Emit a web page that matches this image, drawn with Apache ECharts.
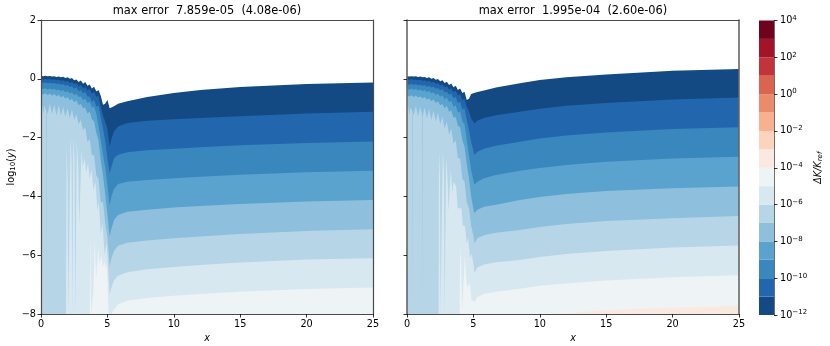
<!DOCTYPE html>
<html>
<head>
<meta charset="utf-8">
<style>html,body{margin:0;padding:0;background:#fff}#main{width:830px;height:346px}</style>
<script src="https://cdn.jsdelivr.net/npm/echarts@6/dist/echarts.min.js"></script>
</head>
<body>
<div id="main"></div>
<script>
// colour bar, exponents of the level edges and one colour per level
const cbEdges = [-12,-11,-10,-9,-8,-7,-6,-5,-4,-3,-2,-1,0,1,2,3,4];
const cbColors = ['#134a84','#2267ad','#3a87bd','#5ba3cf','#8ec0dd','#b6d6e8','#d8e8f1','#eef3f6',
                  '#fae9e1','#fcd3bd','#f9b08f','#ea8c6c','#da654f','#c23439','#a41429','#6f021f'];
const xTicksMax = 25;
const titleLeft = 'max error  7.859e-05  (4.08e-06)';
const titleRight = 'max error  1.995e-04  (2.60e-06)';

// left panel: top edge of each band, log10(y) at leftX
const leftX = [0,.17,.33,.5,.67,.83, 1,1.17,1.33,1.5,1.67,1.83, 2,2.17,2.33,2.5,2.67,2.83, 3,3.17,3.33,3.5,3.67,3.83, 4,4.17,4.33,4.5,4.67,4.83,
               5,5.17,5.3,5.5,5.8,6.5,8,10,12,15,20,25];
const leftB1 = [.10,.09,.10,.085,.095,.08, .09,.065,.08,.05,.07,.03, .055,0,.03,-.05,-.02,-.11, -.06,-.17,-.11,-.24,-.19,-.33, -.27,-.43,-.38,-.58,-.88,-.85,
                -.72,-1.0,-1.02,-.93,-.85,-.76,-.62,-.48,-.38,-.28,-.18,-.13];
const leftB2 = [0,-.02,-.005,-.025,-.01,-.03, -.015,-.05,-.03,-.07,-.05,-.1, -.07,-.14,-.11,-.18,-.15,-.25, -.2,-.32,-.27,-.4,-.35,-.5, -.45,-.62,-.57,-.95,-1.25,-1.45,
                -1.7,-2.3,-2.05,-1.78,-1.62,-1.5,-1.43,-1.38,-1.33,-1.27,-1.18,-1.12];
const leftB3 = [-.12,-.14,-.125,-.15,-.135,-.16, -.145,-.18,-.16,-.2,-.18,-.24, -.21,-.28,-.25,-.34,-.3,-.42, -.37,-.5,-.44,-.6,-.6,-.78, -.72,-.95,-.9,-1.3,-1.7,-2.1,
                -2.7,-3.2,-3.0,-2.7,-2.58,-2.5,-2.43,-2.38,-2.33,-2.26,-2.18,-2.13];
const leftB4 = [-.32,-.35,-.32,-.36,-.33,-.37, -.34,-.39,-.36,-.42,-.38,-.46, -.42,-.5,-.46,-.56,-.51,-.62, -.6,-.72,-.68,-.82,-.78,-.98, -.95,-1.2,-1.6,-2.1,-2.6,-3.0,
                -3.6,-4.3,-4.0,-3.75,-3.58,-3.5,-3.44,-3.38,-3.33,-3.26,-3.18,-3.13];
const leftB5 = [-.49,-.54,-.49,-.56,-.5,-.58, -.52,-.6,-.54,-.64,-.58,-.68, -.62,-.74,-.68,-.8,-.74,-.9, -.86,-1.0,-.98,-1.18,-1.12,-1.38, -1.45,-1.85,-2.1,-2.8,-3.3,-3.9,
                -4.6,-5.36,-5.1,-4.8,-4.63,-4.52,-4.45,-4.38,-4.33,-4.26,-4.17,-4.12];
const leftB6 = [[0,-.95],[.08,-.85],[.17,-1.2],[.25,-.9],[.33,-.85],[.39,-1.1],[.41,-8],[.43,-1.1],[.5,-1.2],[.67,-.85],[.83,-1.2],[1,-.88],[1.17,-1.25],[1.33,-.88],[1.5,-1.25],
                [1.67,-.95],[1.83,-1.3],[2,-1.0],[2.17,-1.35],[2.33,-1.05],[2.5,-1.4],[2.67,-1.2],[2.83,-1.55],[3,-1.4],[3.17,-1.75],[3.33,-1.65],[3.5,-2.15],[3.67,-2.05],[3.83,-2.6],
                [4,-2.6],[4.17,-3.3],[4.33,-3.4],[4.5,-4.2],[4.67,-4.2],[4.83,-4.9],[5,-5.4],[5.17,-6.38],[5.3,-6.1],[5.5,-5.85],[5.8,-5.68],[6.5,-5.58],[8,-5.5],[10,-5.42],[12,-5.36],[15,-5.28],[20,-5.18],[25,-5.12]];
const leftB7 = [[0,-8],[1.88,-8],[1.93,-2.25],[2,-3.5],[2.05,-8],[2.18,-8],[2.23,-1.96],[2.3,-2.9],[2.36,-8],[2.4,-8],[2.44,-2],[2.52,-2.8],[2.58,-8],[2.66,-8],[2.7,-2.15],[2.8,-3],[2.88,-5],
                [3.05,-2.45],[3.15,-3],[3.3,-2.7],[3.4,-3.2],[3.55,-2.85],[3.65,-3.4],[3.8,-3.1],[3.95,-3.8],[4.1,-3.5],[4.25,-4.5],[4.35,-4.2],[4.5,-5.3],[4.62,-4.9],[4.8,-6],[4.95,-5.6],[5.1,-6.8],
                [5.17,-7.35],[5.3,-7.1],[5.5,-6.85],[5.8,-6.7],[6.5,-6.58],[8,-6.48],[10,-6.4],[12,-6.33],[15,-6.25],[20,-6.15],[25,-6.1]];
const leftB8 = [[0,-8],[3.67,-8],[3.7,-5.2],[3.74,-7],[3.78,-8],[3.82,-7.8],[3.95,-7.2],[4.05,-5.4],[4.1,-6.2],[4.15,-6.8],[4.32,-5.75],[4.4,-6.3],[4.56,-6],[4.66,-6.4],[4.8,-6.2],[4.9,-6.5],[4.97,-6.3],[5.05,-7.6],[5.1,-8],
                [5.3,-8],[5.5,-7.85],[5.8,-7.68],[6.5,-7.55],[8,-7.46],[10,-7.38],[12,-7.32],[15,-7.24],[20,-7.15],[25,-7.1]];

// right panel
const rightX = [0,.17,.33,.5,.67,.83, 1,1.17,1.33,1.5,1.67,1.83, 2,2.17,2.33,2.5,2.67,2.83, 3,3.17,3.33,3.5,3.67,3.83, 4,4.17,4.33,4.5,4.67,4.83,
                5,5.07,5.3,5.8,6.7,8.5,10,12,15,20,25];
const rightB1 = [.09,.08,.09,.075,.085,.065, .08,.05,.065,.03,.05,0, .03,-.03,-.01,-.08,-.05,-.14, -.1,-.21,-.16,-.29,-.24,-.38, -.33,-.48,-.44,-.72,-.68,-.52,
                 -.49,-.48,-.45,-.4,-.3,-.15,-.04,.05,.15,.27,.33];
const rightB2 = [-.01,-.03,-.01,-.04,-.02,-.05, -.03,-.07,-.05,-.09,-.07,-.13, -.1,-.17,-.14,-.22,-.19,-.29, -.25,-.36,-.32,-.45,-.41,-.57, -.52,-.72,-.68,-.95,-1.1,-1.35,
                 -1.45,-1.52,-1.42,-1.33,-1.24,-1.12,-1.02,-.92,-.82,-.7,-.64];
const rightB3 = [-.17,-.2,-.17,-.21,-.18,-.22, -.2,-.24,-.21,-.27,-.24,-.3, -.27,-.34,-.31,-.39,-.35,-.46, -.44,-.54,-.5,-.66,-.62,-.82, -.78,-1.05,-1.0,-1.4,-1.75,-2.15,
                 -2.45,-2.59,-2.48,-2.38,-2.28,-2.14,-2.03,-1.93,-1.83,-1.71,-1.65];
const rightB4 = [-.33,-.37,-.33,-.38,-.34,-.4, -.36,-.42,-.38,-.46,-.41,-.5, -.46,-.55,-.5,-.61,-.56,-.7, -.64,-.8,-.75,-.95,-.9,-1.15, -1.1,-1.45,-1.55,-2.1,-2.6,-3.1,
                 -3.45,-3.6,-3.5,-3.38,-3.27,-3.13,-3.03,-2.93,-2.82,-2.71,-2.65];
const rightB5 = [-.56,-.6,-.56,-.62,-.57,-.64, -.6,-.67,-.62,-.71,-.66,-.76, -.7,-.82,-.76,-.9,-.86,-1.0, -.92,-1.12,-1.08,-1.32,-1.3,-1.6, -1.65,-2.1,-2.3,-2.9,-3.4,-4.0,
                 -4.42,-4.57,-4.45,-4.35,-4.28,-4.12,-4.02,-3.92,-3.82,-3.72,-3.66];
const rightB6 = [[0,-1],[.08,-.9],[.17,-1.25],[.25,-.98],[.33,-.92],[.39,-1.1],[.41,-8],[.43,-1.1],[.5,-1.25],[.67,-.92],[.83,-1.28],[1,-.95],[1.13,-1.25],[1.15,-8],[1.17,-1.3],[1.33,-.98],[1.5,-1.35],
                 [1.67,-1.02],[1.83,-1.4],[2,-1.08],[2.17,-1.45],[2.33,-1.15],[2.5,-1.55],[2.67,-1.28],[2.83,-1.7],[3,-1.45],[3.17,-1.9],[3.33,-1.7],[3.5,-2.2],[3.67,-2.1],[3.83,-2.7],
                 [4,-2.7],[4.17,-3.4],[4.33,-3.5],[4.5,-4.2],[4.67,-4.4],[4.83,-5],[5,-5.35],[5.07,-5.59],[5.3,-5.42],[5.8,-5.32],[6.7,-5.24],[8.5,-5.14],[10,-5.04],[12,-4.94],[15,-4.84],[20,-4.74],[25,-4.67]];
const rightB7 = [[0,-8],[2.38,-8],[2.41,-2.47],[2.48,-3.3],[2.52,-8],[2.66,-8],[2.7,-2.47],[2.78,-3.2],[2.83,-8],[2.9,-8],[2.95,-2.7],[3.05,-3.4],[3.12,-4.5],[3.3,-3.1],[3.42,-3.9],[3.5,-3.5],
                 [3.7,-3.66],[3.82,-4.4],[4.1,-4.4],[4.2,-5],[4.36,-5],[4.5,-5.6],[4.6,-5.4],[4.75,-6.1],[4.87,-5.95],[5,-6.3],[5.07,-6.61],[5.3,-6.42],[5.8,-6.32],[6.7,-6.24],[8.5,-6.16],[10,-6.06],[12,-5.96],[15,-5.86],[20,-5.74],[25,-5.67]];
const rightB8 = [[0,-8],[3.97,-8],[4,-5.65],[4.08,-6.4],[4.15,-7.9],[4.36,-6],[4.46,-6.8],[4.55,-7.1],[4.74,-6.95],[4.85,-7.5],[5.07,-7.6],[5.3,-7.42],[5.8,-7.32],[6.7,-7.24],[8.5,-7.14],[10,-7.04],[12,-6.96],[15,-6.86],[20,-6.75],[25,-6.68]];
const rightB9 = [[0,-8],[11.5,-8],[12.5,-7.97],[15,-7.86],[17.5,-7.82],[20,-7.79],[25,-7.71]];

const FONT = 'DejaVu Sans';
const LINE = '#4a4a4a';

function zip(xs, ys) {
    return ys.map(function (y, i) { return [xs[i], y]; });
}

// one filled layer per band, darkest first, each one reaching down to the axis bottom
function bands(axisIndex, layers) {
    return layers.map(function (data, i) {
        return {
            type: 'line', xAxisIndex: axisIndex, yAxisIndex: axisIndex, data: data,
            showSymbol: false, symbol: 'none', silent: true, lineStyle: {width: 0}, z: 2 + i * 0.01,
            areaStyle: {color: cbColors[i], opacity: 1, origin: 'start'}
        };
    });
}

function minus(v) {
    return String(v).replace('-', '\u2212');
}

function xAxisFor(gridIndex) {
    return {
        type: 'value', gridIndex: gridIndex, min: 0, max: xTicksMax, interval: 5, z: 5,
        name: '{i|x}', nameLocation: 'middle', nameGap: 18,
        nameTextStyle: {rich: {i: {fontFamily: FONT, fontStyle: 'italic', fontSize: 9.7, color: '#000'}}},
        axisLine: {onZero: false, lineStyle: {color: LINE, width: 1.2}},
        axisTick: {length: 3.5, lineStyle: {color: '#000', width: .8}},
        axisLabel: {fontFamily: FONT, fontSize: 9.7, color: '#000', margin: 5},
        splitLine: {show: false}
    };
}

function yAxisFor(gridIndex, labels) {
    return {
        type: 'value', gridIndex: gridIndex, min: -8, max: 2, interval: 2, z: 5,
        axisLine: {onZero: false, lineStyle: {color: LINE, width: 1.2}},
        axisTick: {length: 3.5, lineStyle: {color: '#000', width: .8}},
        axisLabel: {show: labels, fontFamily: FONT, fontSize: 9.7, color: '#000', margin: 5, formatter: minus},
        splitLine: {show: false}
    };
}

function edgeAxis(base, position) {
    return Object.assign({}, base, {
        position: position, name: '', axisTick: {show: false}, axisLabel: {show: false}
    });
}

const xL = xAxisFor(0), xR = xAxisFor(1), yL = yAxisFor(0, true), yR = yAxisFor(1, false);
yL.name = '{n|log}{s|10}{n|(}{i|y}{n|)}';
yL.nameLocation = 'middle';
yL.nameGap = 24;
yL.nameRotate = 90;
yL.nameTextStyle = {rich: {
    n: {fontFamily: FONT, fontSize: 9.7, color: '#000'},
    i: {fontFamily: FONT, fontStyle: 'italic', fontSize: 9.7, color: '#000'},
    s: {fontFamily: FONT, fontSize: 7, color: '#000', padding: [4, 0, 0, 0]}
}};
yR.axisLine.lineStyle = {color: '#666', width: 1.6};

const cbData = cbColors.map(function (c, i) { return [cbEdges[i], cbEdges[i + 1]]; });

const option = {
    animation: false,
    backgroundColor: '#fff',
    title: [
        {text: titleLeft, left: 207, top: 6, padding: 0, textAlign: 'center', textStyle: {fontFamily: FONT, fontSize: 11.4, fontWeight: 'normal', color: '#000'}},
        {text: titleRight, left: 573, top: 6, padding: 0, textAlign: 'center', textStyle: {fontFamily: FONT, fontSize: 11.4, fontWeight: 'normal', color: '#000'}}
    ],
    grid: [
        {left: 41, top: 20, width: 332, height: 294, outerBoundsMode: 'none'},
        {left: 407, top: 20, width: 332, height: 294, outerBoundsMode: 'none'},
        {left: 759, top: 20.5, width: 15, height: 294.5, outerBoundsMode: 'none'}
    ],
    xAxis: [
        xL, xR,
        {type: 'value', gridIndex: 2, min: 0, max: 1, show: false},
        edgeAxis(xL, 'top'), edgeAxis(xR, 'top')
    ],
    yAxis: [
        yL, yR,
        {
            type: 'value', gridIndex: 2, min: -12, max: 4, interval: 2, position: 'right', z: 5,
            name: '{i|\u0394K/K}{s|ref}', nameLocation: 'middle', nameGap: 39, nameRotate: 90,
            nameTextStyle: {rich: {
                i: {fontFamily: FONT, fontStyle: 'italic', fontSize: 9.7, color: '#000'},
                s: {fontFamily: FONT, fontStyle: 'italic', fontSize: 7, color: '#000', padding: [4, 0, 0, 0]}
            }},
            axisLine: {show: true, onZero: false, lineStyle: {color: LINE, width: .8}},
            axisTick: {show: true, length: 3.5, lineStyle: {color: '#000', width: .8}},
            splitLine: {show: false},
            axisLabel: {
                margin: 6,
                formatter: function (v) { return '{b|10}{e|' + minus(v) + '}'; },
                rich: {
                    b: {fontFamily: FONT, fontSize: 9.7, color: '#000'},
                    e: {fontFamily: FONT, fontSize: 7, color: '#000', padding: [0, 0, 5, 0]}
                }
            }
        },
        edgeAxis(yL, 'right'), edgeAxis(yR, 'right')
    ],
    series: [].concat(
        bands(0, [zip(leftX, leftB1), zip(leftX, leftB2), zip(leftX, leftB3), zip(leftX, leftB4), zip(leftX, leftB5), leftB6, leftB7, leftB8]),
        bands(1, [zip(rightX, rightB1), zip(rightX, rightB2), zip(rightX, rightB3), zip(rightX, rightB4), zip(rightX, rightB5), rightB6, rightB7, rightB8, rightB9]),
        [{
            type: 'custom', xAxisIndex: 2, yAxisIndex: 2, data: cbData, silent: true, z: 2,
            encode: {y: [0, 1]},
            renderItem: function (params, api) {
                const p0 = api.coord([0, api.value(1)]);
                const p1 = api.coord([1, api.value(0)]);
                return {type: 'rect', shape: {x: p0[0], y: p0[1], width: p1[0] - p0[0], height: p1[1] - p0[1]},
                        style: {fill: cbColors[params.dataIndex]}};
            }
        }]
    )
};

const chart = echarts.init(document.getElementById('main'), null, {renderer: 'canvas'});
chart.setOption(option);
</script>
</body>
</html>
